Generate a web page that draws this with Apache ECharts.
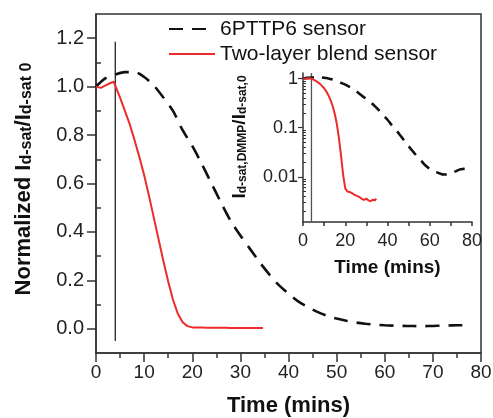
<!DOCTYPE html>
<html>
<head>
<meta charset="utf-8">
<script src="https://cdn.jsdelivr.net/npm/echarts@6/dist/echarts.min.js"></script>
<style>
  html, body { margin: 0; padding: 0; background: #fff; }
  #chart { width: 493px; height: 418px; }
</style>
</head>
<body>
<div id="chart"></div>
<script>
// Normalized saturation current vs. exposure time for the two sensor types
const sensorTime = [0, 2, 4, 6, 8, 10, 12, 14, 16, 18, 20, 22, 24, 26, 28, 30, 32, 34, 36, 38,
  40, 42, 44, 46, 48, 50, 52, 54, 56, 58, 60, 62, 64, 66, 68, 70, 72, 74, 76, 78];
const sensorResponse = [1.0, 1.035, 1.05, 1.06, 1.06, 1.04, 1.005, 0.955, 0.9, 0.82, 0.755, 0.68,
  0.6, 0.52, 0.445, 0.385, 0.33, 0.275, 0.225, 0.18, 0.145, 0.113, 0.09, 0.07, 0.054, 0.042,
  0.033, 0.026, 0.021, 0.017, 0.0145, 0.013, 0.012, 0.0112, 0.0111, 0.0118, 0.0128, 0.014,
  0.0145, 0.0148];

const blendTime = [0, 1, 2, 3, 3.7, 4.3, 5, 6, 7, 8, 9, 10, 11, 12, 13, 14, 15, 16, 17, 18, 19,
  20, 21, 22, 23, 24, 25, 26, 27, 28, 29, 30, 31, 32, 33, 34, 34.7];
const blendResponse = [1.0, 0.995, 1.005, 1.015, 1.02, 0.99, 0.955, 0.9, 0.845, 0.78, 0.71,
  0.635, 0.55, 0.46, 0.37, 0.28, 0.195, 0.12, 0.062, 0.027, 0.011, 0.0058, 0.005, 0.0049,
  0.0047, 0.0044, 0.0042, 0.004, 0.0038, 0.0035, 0.0034, 0.0036, 0.0033, 0.0032, 0.0034,
  0.0033, 0.0036];

const seriesNames = ['6PTTP6 sensor', 'Two-layer blend sensor'];

// DMMP exposure start marker
const exposureTime = 4;
const exposureSpan = [-0.05, 1.185];

// axis ranges and ticks
const mainYRange = [-0.1, 1.3];
const mainYLabels = [0, 0.2, 0.4, 0.6, 0.8, 1.0, 1.2];
const mainYMinor = [0.1, 0.3, 0.5, 0.7, 0.9, 1.1];
const insetYRange = [0.0012, 1.3];
const insetYLabels = [0.01, 0.1, 1];
const insetYMinor = [0.002, 0.003, 0.004, 0.005, 0.006, 0.007, 0.008, 0.009,
  0.02, 0.03, 0.04, 0.05, 0.06, 0.07, 0.08, 0.09,
  0.2, 0.3, 0.4, 0.5, 0.6, 0.7, 0.8, 0.9];

const pairs = (xs, ys) => xs.map((x, i) => [x, ys[i]]);

const FONT = '"Liberation Sans", Arial, sans-serif';
const AXIS = '#333';
const BLACK = '#111';
const RED = '#ee2b2b';

function xAxisStyle(grid, interval, tickLen, minorLen, labelSize, name, nameSize, nameGap) {
  return {
    gridIndex: grid, type: 'value', min: 0, max: 80, interval: interval,
    axisLine: { onZero: false, lineStyle: { color: AXIS, width: 1.5 } },
    axisTick: { inside: false, length: tickLen, lineStyle: { color: AXIS, width: 1.5 } },
    minorTick: { show: true, splitNumber: 2, length: minorLen, lineStyle: { color: AXIS, width: 1.5 } },
    splitLine: { show: false },
    axisLabel: { fontFamily: FONT, fontSize: labelSize, color: '#222', margin: 10 },
    name: name, nameLocation: 'middle', nameGap: nameGap,
    nameTextStyle: { fontFamily: FONT, fontSize: nameSize, fontWeight: 'bold', color: '#111' }
  };
}

const option = {
  animation: false,
  backgroundColor: '#fff',
  legend: {
    data: seriesNames,
    orient: 'vertical',
    left: 163, top: 13,
    itemWidth: 46, itemHeight: 14, itemGap: 3,
    itemStyle: { opacity: 0 },
    textStyle: { fontFamily: FONT, fontSize: 21, color: '#111', lineHeight: 22 }
  },
  grid: [
    { left: 96, right: 12, top: 14, bottom: 65, outerBoundsMode: 'none',
      show: true, borderColor: AXIS, borderWidth: 1.5, backgroundColor: 'transparent' },
    { left: 303, right: 21, top: 73, bottom: 196, outerBoundsMode: 'none' }
  ],
  xAxis: [
    xAxisStyle(0, 10, 9, 5, 19, 'Time (mins)', 22, 42),
    xAxisStyle(1, 20, 4, 4, 18, 'Time (mins)', 19, 36)
  ],
  yAxis: [
    {
      gridIndex: 0, type: 'value', min: mainYRange[0], max: mainYRange[1],
      axisLine: { onZero: false, lineStyle: { color: AXIS, width: 1.5 } },
      axisTick: { customValues: mainYLabels, length: 9, lineStyle: { color: AXIS, width: 1.5 } },
      splitLine: { show: false },
      axisLabel: { customValues: mainYLabels, formatter: v => v.toFixed(1),
        fontFamily: FONT, fontSize: 20, color: '#222', margin: 12 },
      name: '{m|Normalized I}{s|d-sat}{m|/I}{s|d-sat 0}',
      nameLocation: 'middle', nameGap: 61,
      nameTextStyle: {
        padding: [0, 0, 0, 9],
        rich: {
          m: { fontFamily: FONT, fontSize: 22, fontWeight: 'bold', color: '#111', lineHeight: 22, verticalAlign: 'top' },
          s: { fontFamily: FONT, fontSize: 16, fontWeight: 'bold', color: '#111', lineHeight: 16, padding: [11, 0, 0, 0], verticalAlign: 'bottom' }
        }
      }
    },
    {
      gridIndex: 0, type: 'value', min: mainYRange[0], max: mainYRange[1],
      axisLine: { show: false },
      axisTick: { customValues: mainYMinor, length: 5, lineStyle: { color: AXIS, width: 1.5 } },
      axisLabel: { show: false },
      splitLine: { show: false }
    },
    {
      gridIndex: 1, type: 'log', logBase: 10, min: insetYRange[0], max: insetYRange[1],
      axisLine: { onZero: false, lineStyle: { color: AXIS, width: 1.5 } },
      axisTick: { customValues: insetYLabels, length: 5, lineStyle: { color: AXIS, width: 1.2 } },
      splitLine: { show: false },
      axisLabel: { customValues: insetYLabels, formatter: v => String(v),
        fontFamily: FONT, fontSize: 18, color: '#222', margin: 5 },
      name: '{m|I}{s|d-sat,DMMP}{m|/I}{s|d-sat,0}',
      nameLocation: 'middle', nameGap: 54,
      nameTextStyle: {
        padding: [0, 0, 0, 21],
        rich: {
          m: { fontFamily: FONT, fontSize: 19, fontWeight: 'bold', color: '#111', lineHeight: 19, verticalAlign: 'top' },
          s: { fontFamily: FONT, fontSize: 12, fontWeight: 'bold', color: '#111', lineHeight: 12, padding: [9, 0, 0, 0], verticalAlign: 'bottom' }
        }
      }
    },
    {
      gridIndex: 1, type: 'log', logBase: 10, min: insetYRange[0], max: insetYRange[1],
      axisLine: { show: false },
      axisTick: { customValues: insetYMinor, length: 3, lineStyle: { color: AXIS, width: 1 } },
      axisLabel: { show: false },
      splitLine: { show: false }
    }
  ],
  series: [
    {
      name: seriesNames[0], type: 'line', xAxisIndex: 0, yAxisIndex: 0,
      data: pairs(sensorTime, sensorResponse), symbol: 'none', smooth: 0.3,
      itemStyle: { color: BLACK },
      lineStyle: { color: BLACK, width: 2.6, type: [14, 9] }, z: 3
    },
    {
      name: seriesNames[1], type: 'line', xAxisIndex: 0, yAxisIndex: 0,
      data: pairs(blendTime, blendResponse), symbol: 'none',
      itemStyle: { color: RED },
      lineStyle: { color: RED, width: 2 }, z: 4
    },
    {
      type: 'line', xAxisIndex: 0, yAxisIndex: 0, silent: true,
      data: [[exposureTime, exposureSpan[1]], [exposureTime, exposureSpan[0]]], symbol: 'none',
      lineStyle: { color: BLACK, width: 1.2 }, z: 2
    },
    {
      name: seriesNames[0], type: 'line', xAxisIndex: 1, yAxisIndex: 2,
      data: pairs(sensorTime, sensorResponse), symbol: 'none', smooth: 0.3,
      itemStyle: { color: BLACK },
      lineStyle: { color: BLACK, width: 2.6, type: [11, 8] }, z: 3
    },
    {
      name: seriesNames[1], type: 'line', xAxisIndex: 1, yAxisIndex: 2,
      data: pairs(blendTime, blendResponse), symbol: 'none',
      itemStyle: { color: RED },
      lineStyle: { color: RED, width: 2 }, z: 4
    },
    {
      type: 'line', xAxisIndex: 1, yAxisIndex: 2, silent: true,
      data: [[exposureTime, insetYRange[1]], [exposureTime, insetYRange[0]]], symbol: 'none',
      lineStyle: { color: '#555', width: 1.3 }, z: 2
    }
  ]
};

const chart = echarts.init(document.getElementById('chart'), null, { renderer: 'canvas' });
chart.setOption(option);
</script>
</body>
</html>
